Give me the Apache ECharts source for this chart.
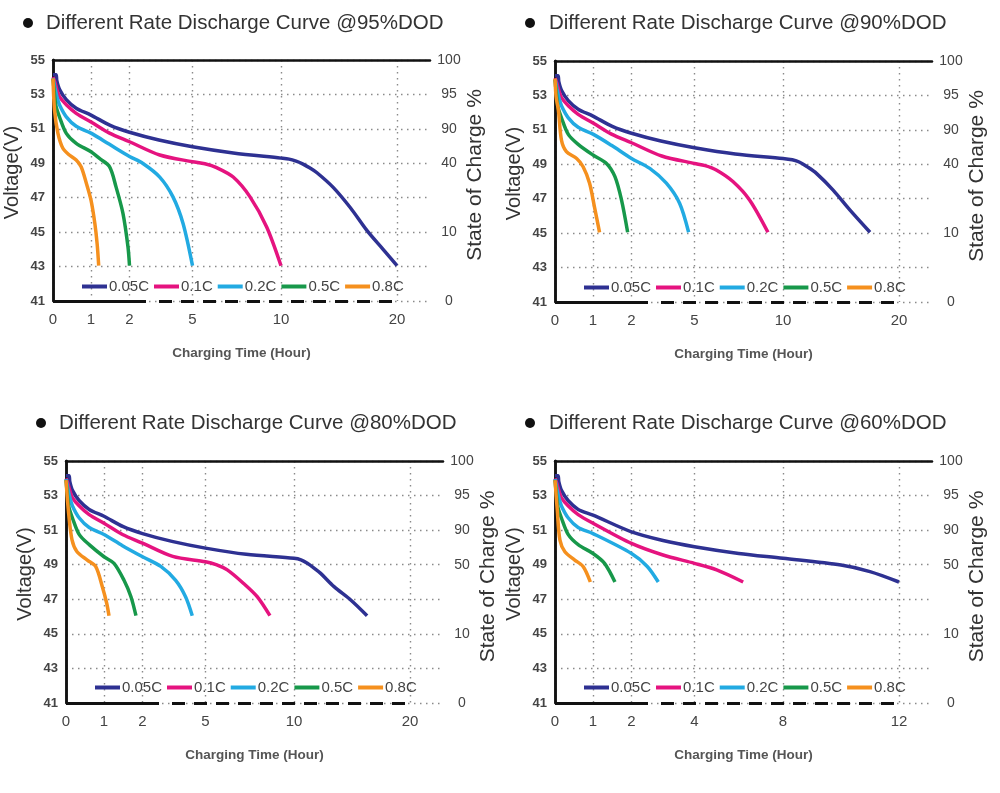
<!DOCTYPE html>
<html><head><meta charset="utf-8">
<script src="https://cdn.jsdelivr.net/npm/echarts@6/dist/echarts.min.js"></script>
<style>html,body{margin:0;padding:0;background:#fff}#c{width:1000px;height:793px}</style>
</head><body><div id="c"></div>
<script>
// ---------- DATA ----------
const seriesNames = ['0.05C', '0.1C', '0.2C', '0.5C', '0.8C'];
const panelTitles = [
  'Different Rate Discharge Curve @95%DOD',
  'Different Rate Discharge Curve @90%DOD',
  'Different Rate Discharge Curve @80%DOD',
  'Different Rate Discharge Curve @60%DOD'
];
const xTickHoursA = [0, 1, 2, 5, 10, 20];   // panels 95/90/80
const xTickHoursB = [0, 1, 2, 4, 8, 12];    // panel 60
const voltTicks = [41, 43, 45, 47, 49, 51, 53, 55];
const socLabelsA = ['0', '', '10', '', '40', '90', '95', '100'];
const socLabelsB = ['0', '', '10', '', '50', '90', '95', '100'];

// [hour, volt]
const dod95_005C = [[0,54.15],[0.08,54.15],[0.1,53.8],[0.17,53.3],[0.35,52.7],[0.61,52.2],[1,51.8],[1.5,51.2],[2,50.8],[3.4,50.35],[5,49.96],[7.3,49.6],[10,49.3],[10.7,49.24],[11.3,49.12],[11.9,48.95],[12.5,48.72],[13.1,48.45],[14.5,47.6],[16,46.4],[17.4,45.1],[18.8,44.0],[20,43.05]];
const dod95_01C  = [[0,54.0],[0.05,53.7],[0.1,53.3],[0.17,52.87],[0.35,52.4],[0.61,51.9],[1,51.4],[1.48,50.75],[2,50.25],[3.44,49.48],[5,49.09],[5.7,48.97],[6.36,48.75],[7.3,48.2],[8.25,47.05],[9.19,45.3],[10,43.05]];
const dod95_02C  = [[0,53.95],[0.05,53.4],[0.1,52.9],[0.17,52.4],[0.35,51.7],[0.61,51.15],[1,50.75],[1.48,50.1],[2,49.4],[2.64,48.99],[3.44,48.2],[4.07,47.05],[4.55,45.5],[5,43.05]];
const dod95_05C  = [[0,53.9],[0.04,53.0],[0.08,52.3],[0.17,51.7],[0.35,50.74],[0.61,50.16],[1,49.67],[1.22,49.28],[1.48,48.8],[1.65,47.63],[1.83,46.09],[1.96,44.15],[2,43.05]];
const dod95_08C  = [[0,53.93],[0.04,52.1],[0.13,50.74],[0.26,49.87],[0.43,49.48],[0.61,49.19],[0.74,48.8],[0.87,47.9],[1.0,46.86],[1.1,45.5],[1.16,44.3],[1.2,43.05]];

const dod90_005C = [[0,54.15],[0.08,54.15],[0.1,53.8],[0.17,53.3],[0.35,52.7],[0.61,52.2],[1,51.8],[1.5,51.2],[2,50.8],[3.4,50.35],[5,49.96],[7.3,49.6],[10,49.34],[10.8,49.26],[11.44,49.12],[12.1,48.85],[12.88,48.47],[14.32,47.5],[15.76,46.35],[17.5,45.05]];
const dod90_01C  = [[0,54.0],[0.05,53.7],[0.1,53.3],[0.17,52.87],[0.35,52.4],[0.61,51.9],[1,51.4],[1.48,50.75],[2,50.25],[3.44,49.48],[5,49.05],[5.6,48.92],[6.23,48.67],[7.17,48.0],[8.11,46.93],[9.15,45.05]];
const dod90_02C  = [[0,53.95],[0.05,53.4],[0.1,52.9],[0.17,52.4],[0.35,51.7],[0.61,51.15],[1,50.75],[1.48,50.1],[2,49.34],[2.87,48.76],[3.66,47.9],[4.29,46.74],[4.72,45.05]];
const dod90_05C  = [[0,53.9],[0.04,53.0],[0.08,52.3],[0.17,51.7],[0.35,50.74],[0.61,50.16],[1,49.54],[1.35,49.05],[1.57,48.28],[1.74,46.93],[1.9,45.05]];
const dod90_08C  = [[0,53.98],[0.03,52.9],[0.09,52.14],[0.17,50.4],[0.3,49.73],[0.57,49.34],[0.74,48.86],[0.91,47.9],[1.04,46.5],[1.17,45.05]];

const dod80_005C = [[0,54.15],[0.08,54.15],[0.1,53.8],[0.17,53.3],[0.35,52.7],[0.61,52.2],[1,51.8],[1.5,51.2],[2,50.8],[3.4,50.35],[5,49.96],[7.3,49.6],[10,49.37],[10.6,49.28],[11.15,49.08],[11.7,48.82],[12.3,48.5],[13.45,47.73],[14.89,46.96],[16.3,46.05]];
const dod80_01C  = [[0,54.0],[0.05,53.7],[0.1,53.3],[0.17,52.87],[0.35,52.4],[0.61,51.9],[1,51.4],[1.48,50.75],[2,50.25],[3.44,49.48],[5,49.17],[5.6,49.0],[6.23,48.7],[7.17,47.9],[7.92,47.15],[8.64,46.05]];
const dod80_02C  = [[0,53.95],[0.05,53.4],[0.1,52.9],[0.17,52.4],[0.35,51.7],[0.61,51.15],[1,50.75],[1.48,50.1],[2,49.46],[2.87,48.9],[3.58,48.1],[4.05,47.15],[4.37,46.05]];
const dod80_05C  = [[0,53.9],[0.04,53.0],[0.08,52.3],[0.17,51.7],[0.35,50.74],[0.61,50.16],[1,49.46],[1.26,49.08],[1.52,48.1],[1.7,47.15],[1.83,46.05]];
const dod80_08C  = [[0,53.9],[0.07,51.96],[0.16,50.42],[0.29,49.75],[0.56,49.27],[0.78,48.9],[0.96,47.7],[1.07,46.77],[1.13,46.05]];

const dod60_005C = [[0,54.15],[0.08,54.15],[0.1,53.8],[0.17,53.3],[0.35,52.7],[0.61,52.2],[1,51.87],[2,50.9],[3,50.4],[4,50.04],[6,49.65],[8,49.37],[10,48.98],[11,48.6],[12,48.0]];
const dod60_01C  = [[0,54.0],[0.05,53.7],[0.1,53.3],[0.17,52.87],[0.35,52.4],[0.61,51.9],[1,51.4],[2,50.23],[3,49.56],[4,49.08],[5,48.7],[6.2,48.0]];
const dod60_02C  = [[0,53.95],[0.05,53.4],[0.1,52.9],[0.17,52.4],[0.35,51.7],[0.61,51.15],[1,50.8],[2,49.65],[2.5,48.9],[2.85,48.0]];
const dod60_05C  = [[0,53.9],[0.04,53.0],[0.08,52.3],[0.17,51.7],[0.35,50.74],[0.61,50.16],[1,49.65],[1.3,49.08],[1.57,48.0]];
const dod60_08C  = [[0,53.9],[0.06,52.15],[0.13,50.42],[0.26,49.75],[0.52,49.27],[0.74,48.9],[0.93,48.0]];

const panelData = [
  [dod95_005C, dod95_01C, dod95_02C, dod95_05C, dod95_08C],
  [dod90_005C, dod90_01C, dod90_02C, dod90_05C, dod90_08C],
  [dod80_005C, dod80_01C, dod80_02C, dod80_05C, dod80_08C],
  [dod60_005C, dod60_01C, dod60_02C, dod60_05C, dod60_08C]
];
const panelXTicks = [xTickHoursA, xTickHoursA, xTickHoursA, xTickHoursB];
const panelSoc = [socLabelsA, socLabelsA, socLabelsB, socLabelsB];

// ---------- LAYOUT / STYLE ----------
const colors = ['#2e3192', '#e5137f', '#22aae2', '#17984a', '#f5901e'];
const AXIS_MAX = 377;                         // axis units across the plot width
const TICK_POS = [0, 38, 76.5, 139.5, 228, 344]; // non-linear time scale positions
const layouts = [
  {left: 53,  top: 60,  w: 377, h: 241, tx: 46,  ty: 13, bx: 28,  by: 23},
  {left: 555, top: 61,  w: 377, h: 241, tx: 549, ty: 13, bx: 530, by: 23},
  {left: 66,  top: 461, w: 377, h: 242, tx: 59,  ty: 413, bx: 41,  by: 423},
  {left: 555, top: 461, w: 377, h: 242, tx: 549, ty: 413, bx: 530, by: 423}
];
const FONT = 'Liberation Sans, Arial, sans-serif';

function warp(h, ticks) {
  for (let i = 0; i < ticks.length - 1; i++) {
    if (h <= ticks[i + 1]) {
      const f = (h - ticks[i]) / (ticks[i + 1] - ticks[i]);
      return TICK_POS[i] + f * (TICK_POS[i + 1] - TICK_POS[i]);
    }
  }
  const n = ticks.length - 1;
  return TICK_POS[n] + (h - ticks[n]) / (ticks[n] - ticks[n - 1]) * (TICK_POS[n] - TICK_POS[n - 1]);
}

const option = {
  backgroundColor: '#fff',
  animation: false,
  title: [], grid: [], xAxis: [], yAxis: [], legend: [], series: [], graphic: []
};

layouts.forEach((L, p) => {
  option.title.push({
    text: panelTitles[p], left: L.tx, top: L.ty, padding: 0,
    textStyle: {fontFamily: FONT, fontSize: 20.5, fontWeight: 'normal', color: '#333'}
  });
  option.graphic.push({type: 'circle', shape: {cx: L.bx, cy: L.by, r: 5}, style: {fill: '#111'}});
  option.grid.push({left: L.left, top: L.top, width: L.w, height: L.h, containLabel: false});
  const ticks = panelXTicks[p];
  // bottom time axis
  option.xAxis.push({
    type: 'value', gridIndex: p, min: 0, max: AXIS_MAX, position: 'bottom',
    axisLine: {show: false},
    axisTick: {show: false, customValues: TICK_POS},
    axisLabel: {
      customValues: TICK_POS, margin: 11,
      fontFamily: FONT, fontSize: 15, color: '#444',
      formatter: v => { const i = TICK_POS.indexOf(v); return i >= 0 ? String(ticks[i]) : ''; }
    },
    splitLine: {show: true, lineStyle: {color: '#8a8a8a', width: 1.4, type: [1.5, 4.5]}},
    name: 'Charging Time (Hour)', nameLocation: 'middle', nameGap: 45,
    nameTextStyle: {fontFamily: FONT, fontSize: 13.5, fontWeight: 'bold', color: '#555'}
  });
  // top border axis
  option.xAxis.push({
    type: 'value', gridIndex: p, min: 0, max: AXIS_MAX, position: 'top',
    axisLine: {show: true, lineStyle: {color: '#111', width: 2.5}},
    axisTick: {show: false}, axisLabel: {show: false}, splitLine: {show: false}
  });
  option.yAxis.push({
    type: 'value', gridIndex: p, min: 41, max: 55, interval: 2, position: 'left',
    axisLine: {show: true, lineStyle: {color: '#111', width: 2.5}},
    axisTick: {show: false},
    axisLabel: {fontFamily: FONT, fontSize: 13, fontWeight: 'bold', color: '#444', margin: 8},
    splitLine: {show: true, lineStyle: {color: '#8a8a8a', width: 1.4, type: [1.5, 4.5]}},
    name: 'Voltage(V)', nameLocation: 'middle', nameGap: 31, nameRotate: 90,
    nameTextStyle: {fontFamily: FONT, fontSize: 20, color: '#333', padding: [0, 0, 0, 16]}
  });
  const soc = panelSoc[p];
  option.yAxis.push({
    type: 'value', gridIndex: p, min: 41, max: 55, interval: 2, position: 'right',
    axisLine: {show: true, lineStyle: {color: '#111', width: 2.5}},
    axisTick: {show: false},
    axisLabel: {
      fontFamily: FONT, fontSize: 14, color: '#444', margin: 19, align: 'center',
      formatter: v => { const i = voltTicks.indexOf(v); return i >= 0 ? soc[i] : ''; }
    },
    splitLine: {show: false},
    name: 'State of Charge %', nameLocation: 'middle', nameGap: 33, nameRotate: 90,
    nameTextStyle: {fontFamily: FONT, fontSize: 21, color: '#333', padding: [0, 0, 0, 11]}
  });
  option.legend.push({
    data: seriesNames, left: L.left + 29, top: L.top + 219, padding: 0,
    icon: 'rect', itemWidth: 25, itemHeight: 4, itemGap: 5,
    selectedMode: false,
    textStyle: {fontFamily: FONT, fontSize: 15, color: '#444', padding: [0, 0, 0, -3]}
  });
  panelData[p].forEach((arr, s) => {
    option.series.push({
      name: seriesNames[s], type: 'line', xAxisIndex: 2 * p, yAxisIndex: 2 * p,
      data: arr.map(d => [warp(d[0], ticks), d[1]]),
      smooth: 0.3, showSymbol: false, symbol: 'none',
      lineStyle: {color: colors[s], width: 3.5}, itemStyle: {color: colors[s]}, z: 3
    });
  });
  // bottom border: solid part then dashed part
  option.series.push({
    type: 'line', xAxisIndex: 2 * p, yAxisIndex: 2 * p, data: [[0, 41]], symbol: 'none',
    lineStyle: {opacity: 0}, silent: true, clip: false, z: 4,
    markLine: {
      silent: true, symbol: ['none', 'none'], animation: false,
      label: {show: false},
      lineStyle: {color: '#111', width: 3, type: 'solid'},
      data: [
        [{coord: [0, 41], lineStyle: {type: 'solid'}}, {coord: [93, 41]}],
        [{coord: [106, 41], lineStyle: {type: [13, 9]}}, {coord: [346, 41]}]
      ]
    }
  });
});

const chart = echarts.init(document.getElementById('c'), null, {renderer: 'canvas'});
chart.setOption(option);
</script>
</body></html>
